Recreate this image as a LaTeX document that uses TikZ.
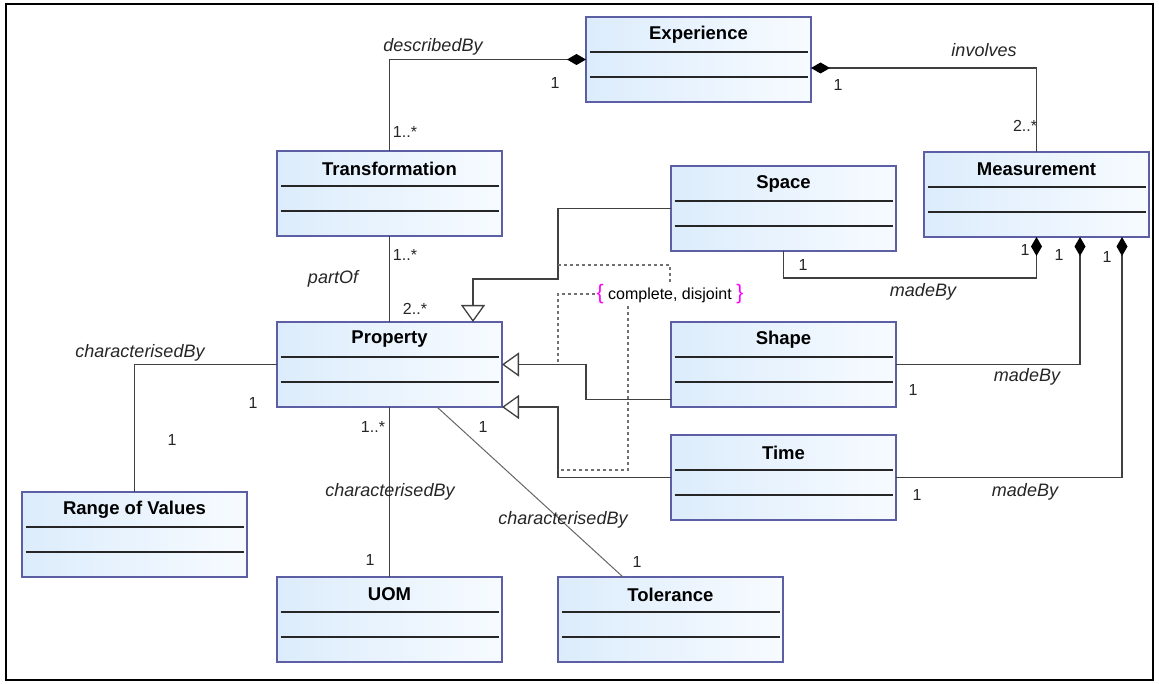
\documentclass[tikz,border=0pt]{standalone}
\usepackage{fontspec}
\setmainfont{Liberation Sans}
\usetikzlibrary{arrows.meta,calc}
\definecolor{boxborder}{HTML}{5C5FA3}
\definecolor{boxtop}{HTML}{DCECFC}
\definecolor{boxbot}{HTML}{F7FBFF}
\definecolor{linec}{HTML}{404040}
\definecolor{dashc}{HTML}{707070}
\definecolor{brace}{HTML}{FF00FF}
\tikzset{
  classbox/.style={draw=boxborder, line width=1.3pt, minimum width=225pt, minimum height=85pt,
    inner sep=0pt, outer sep=0pt, left color=boxtop, right color=boxbot},
  ctitle/.style={inner sep=0pt, font=\fontsize{18.5}{20}\selectfont\bfseries},
  sepline/.style={draw=black!85, line width=1.1pt},
  assoc/.style={draw=linec, line width=1.3pt},
  thinassoc/.style={draw=linec!80, line width=1pt},
  comp/.style={draw=linec, line width=1.3pt, -{Diamond[length=19pt,width=11pt,black]}},
  gen/.style={draw=linec, line width=1.3pt, -{Triangle[open,length=17pt,width=24pt,fill=white]}},
  cons/.style={draw=dashc, line width=1.1pt, dash pattern=on 3pt off 3pt},
  role/.style={inner sep=0pt, font=\fontsize{18}{20}\selectfont\itshape, text=black!85},
  mult/.style={inner sep=0pt, font=\fontsize{16}{18}\selectfont, text=black!85},
}
\newcommand{\umlclass}[4]{%
  \node[classbox, anchor=north west] (#1) at (#2,#3) {};
  \node[ctitle] (#1-t) at ([yshift=-17.5pt]#1.north) {#4};
  \draw[sepline] ([xshift=3.5pt,yshift=-35pt]#1.north west) -- ([xshift=-3.5pt,yshift=-35pt]#1.north east);
  \draw[sepline] ([xshift=3.5pt,yshift=-60pt]#1.north west) -- ([xshift=-3.5pt,yshift=-60pt]#1.north east);
}
\newcommand{\bigbrace}[1]{{\fontsize{21}{21}\selectfont\textcolor{brace}{#1}}}
\begin{document}
\begin{tikzpicture}[x=1pt,y=-1pt]
\useasboundingbox (0,0) rectangle (1159,684);
\fill[white] (0,0) rectangle (1159,684);
\draw[line width=2.2pt, black] (6,4) rectangle (1153,680);

% classes
\umlclass{exp}{586}{17}{Experience}
\umlclass{trans}{277}{151}{Transformation}
\umlclass{space}{671}{166}{Space}
\umlclass{meas}{924}{152}{Measurement}
\umlclass{prop}{277}{322}{Property}
\umlclass{shape}{671}{322}{Shape}
\umlclass{time}{671}{435}{Time}
\umlclass{range}{22}{492}{Range of Values}
\umlclass{uom}{277}{577}{UOM}
\umlclass{tol}{558}{577}{Tolerance}

% associations / compositions
\draw[comp] (trans.north) |- (exp.west);
\draw[comp] (meas.north) |- ([yshift=-8.5pt]exp.east);
\draw[assoc] (prop.north) -- (trans.south);
\draw[assoc] (range.north) |- (prop.west);
\draw[assoc] (prop.south) -- (uom.north);
\draw[thinassoc] ([xshift=160pt]prop.south west) -- ([xshift=65pt]tol.north west);

\coordinate (m1) at (1036.5,278);
\draw[comp] (space.south) |- (m1) -- (meas.south);
\draw[comp] (shape.east) -| ([xshift=156pt]meas.south west);
\draw[comp] (time.east) -| ([xshift=198pt]meas.south west);

% generalizations
\coordinate (g1) at (558,279);
\coordinate (g2) at (586,380);
\coordinate (g3) at (558,440);
\draw[gen] (space.west) -| (g1) -| ([xshift=196pt]prop.north west);
\draw[gen] ([yshift=-35pt]shape.west) -| (g2) |- (prop.east);
\draw[gen] (time.west) -| (g3) |- (prop.south east);

% constraint
\node[inner sep=2pt, font=\fontsize{16}{18}\selectfont] (cons) at (670,294)
  {\bigbrace{\{}\ complete, disjoint\ \bigbrace{\}}};
\coordinate (c1) at (558,265);
\coordinate (c2) at (558,364.5);
\coordinate (c3) at (558,470);
\draw[cons] (cons.north) |- (c1);
\draw[cons] (cons.west) -| (c2);
\draw[cons] ([xshift=-42pt]cons.south) |- (c3);

% role names
\node[role] (r1) at (433,47) {describedBy};
\node[role] (r2) at (984,50) {involves};
\node[role] (r3) at (333,279) {partOf};
\node[role] (r4) at (140,353) {characterisedBy};
\node[role] (r5) at (390,492) {characterisedBy};
\node[role] (r6) at (563,520) {characterisedBy};
\node[role] (r7) at (923,292) {madeBy};
\node[role] (r8) at (1027,377) {madeBy};
\node[role] (r9) at (1025,492) {madeBy};

% multiplicities
\node[mult] (n1) at (555,83) {1};
\node[mult] (n2) at (405,132) {1..*};
\node[mult] (n3) at (838,85) {1};
\node[mult] (n4) at (1025,126) {2..*};
\node[mult] (n5) at (405,255) {1..*};
\node[mult] (n6) at (415,309) {2..*};
\node[mult] (n7) at (253,403) {1};
\node[mult] (n8) at (172,440) {1};
\node[mult] (n9) at (373,427) {1..*};
\node[mult] (n10) at (370,560) {1};
\node[mult] (n11) at (483,427) {1};
\node[mult] (n12) at (637,562) {1};
\node[mult] (n13) at (803,265) {1};
\node[mult] (n14) at (1025,250) {1};
\node[mult] (n15) at (1059,255) {1};
\node[mult] (n16) at (1107,257) {1};
\node[mult] (n17) at (913,390) {1};
\node[mult] (n18) at (917,495) {1};
\end{tikzpicture}
\end{document}
